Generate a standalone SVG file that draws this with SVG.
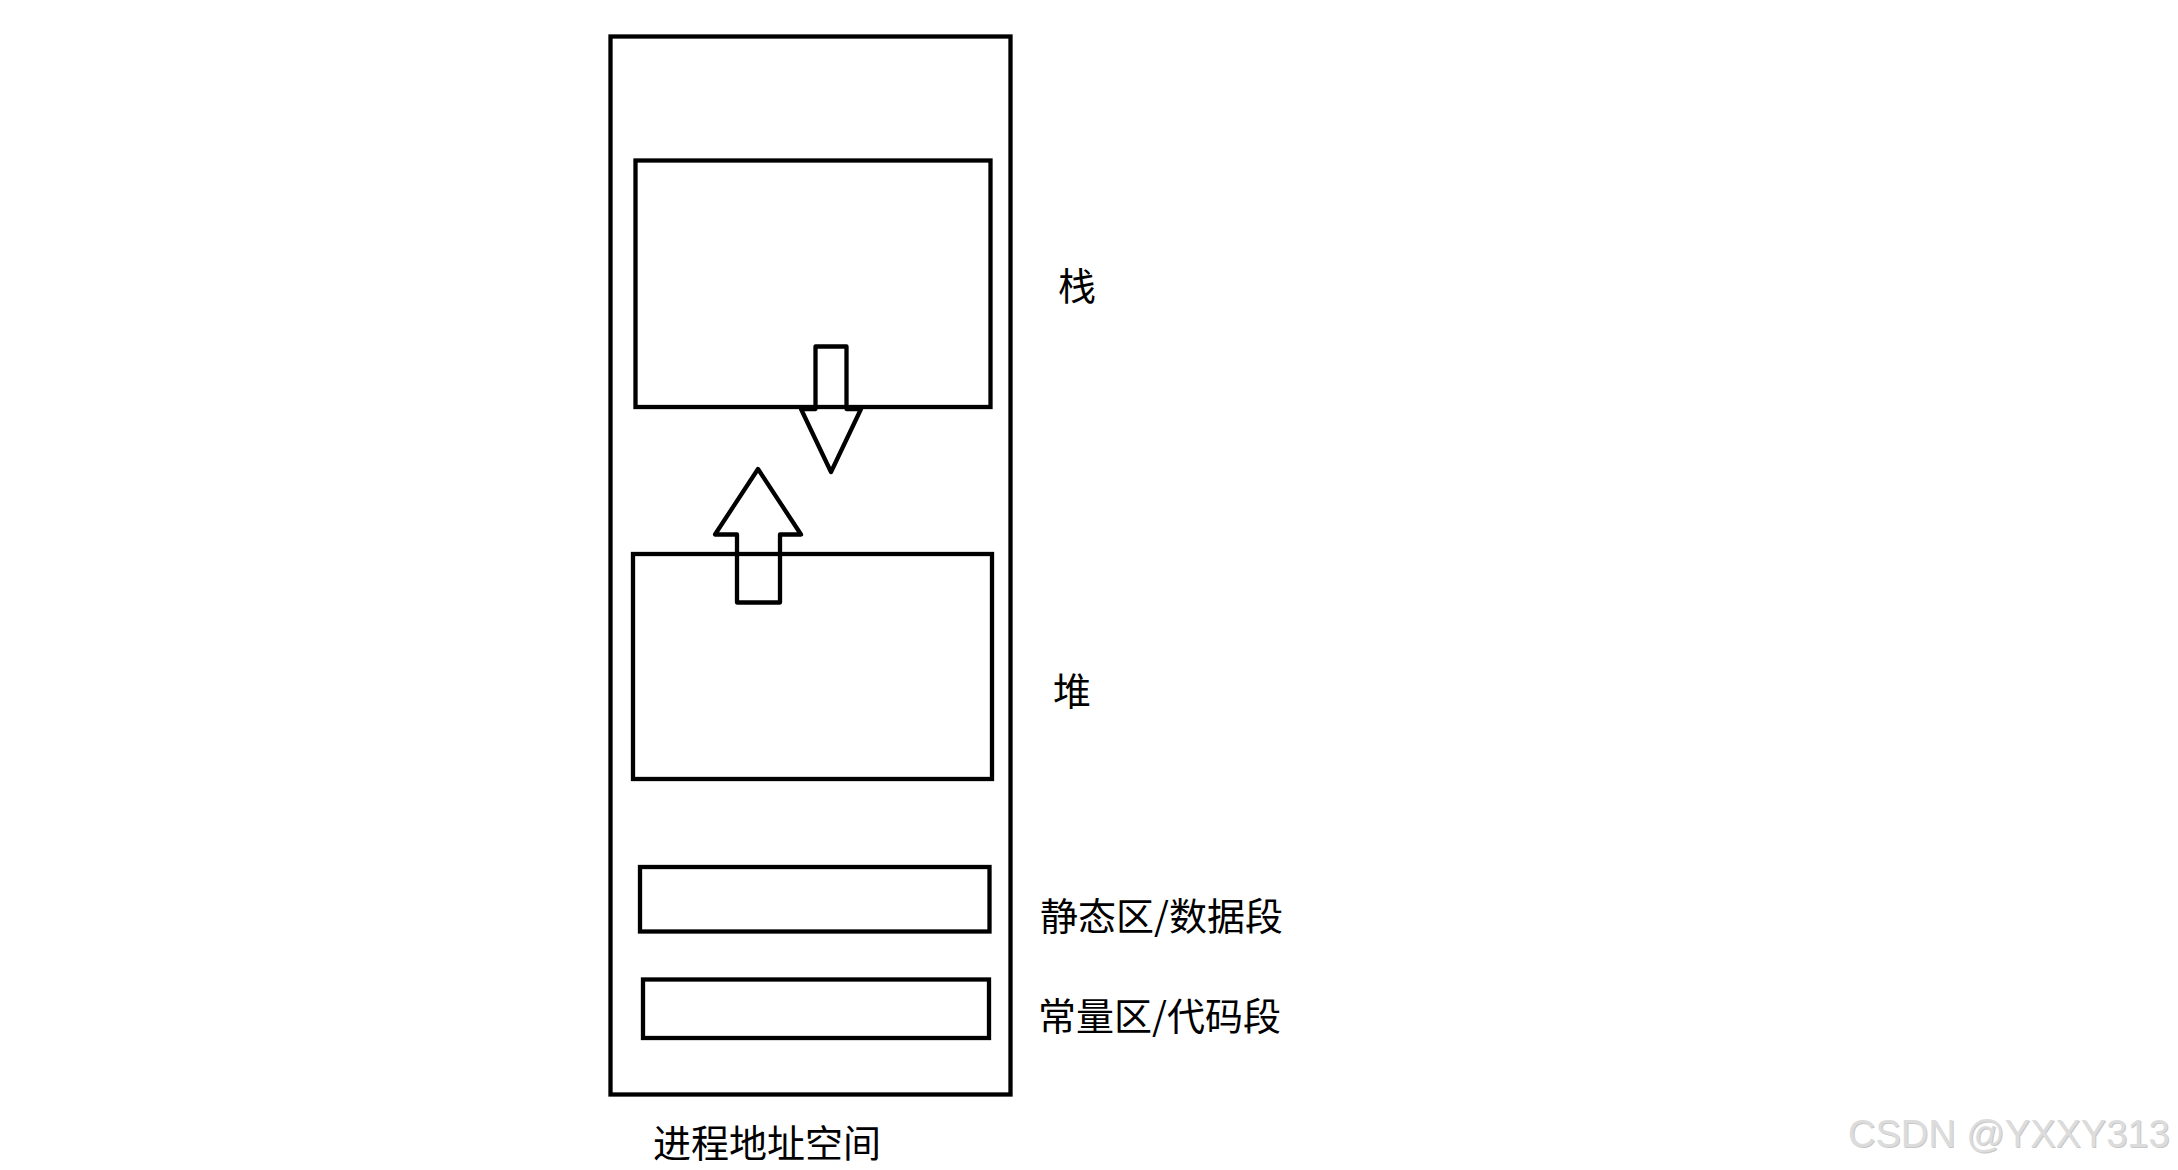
<svg xmlns="http://www.w3.org/2000/svg" width="2178" height="1170" viewBox="0 0 2178 1170">
<style>
.box{fill:none;stroke:#000;stroke-width:4.3}
.arrow{fill:none;stroke:#000;stroke-width:4.3;stroke-linejoin:round}
.lbl{font-family:"Noto Sans CJK SC","Microsoft YaHei",sans-serif;font-size:38px;fill:#000}
.wm{font-family:"Liberation Sans",Arial,sans-serif;font-size:38px;fill:#dcdcdc}
</style>
<rect width="2178" height="1170" fill="#fff"/>
<g id="process-space">
<rect class="box" x="610.5" y="36.5" width="400" height="1058"/>
<text class="lbl" x="653" y="1157">进程地址空间</text>
</g>
<g id="stack">
<rect class="box" x="635.5" y="160.5" width="355" height="246.5"/>
<text class="lbl" x="1058" y="300">栈</text>
</g>
<g id="heap">
<rect class="box" x="633" y="554" width="359" height="225"/>
<text class="lbl" x="1053" y="705">堆</text>
</g>
<g id="data">
<rect class="box" x="640" y="867" width="349.5" height="64.5"/>
<text class="lbl" x="1040" y="930">静态区/数据段</text>
</g>
<g id="code">
<rect class="box" x="643" y="979.5" width="346" height="58.5"/>
<text class="lbl" x="1038" y="1030">常量区/代码段</text>
</g>
<g id="connectors">
<polygon class="arrow" points="815.5,346.5 846.5,346.5 846.5,409 861,409 831,472 801,409 815.5,409"/>
<polygon class="arrow" points="758,469 801,534.5 780,534.5 780,602.5 737,602.5 737,534.5 715,534.5"/>
</g>
<g id="watermark">
<text class="wm" x="1849" y="1148" style="fill:#c8c8c8">CSDN @YXXY313</text>
<text class="wm" x="1848" y="1147">CSDN @YXXY313</text>
</g>
</svg>
